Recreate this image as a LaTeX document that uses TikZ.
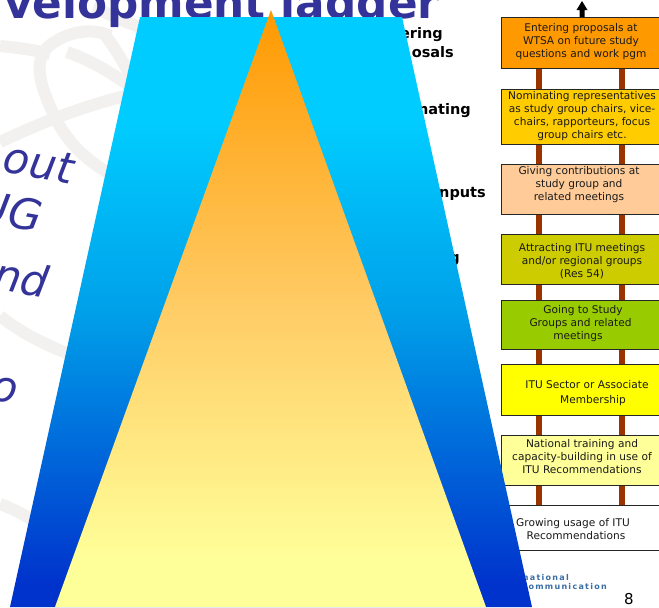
\documentclass[tikz,border=0pt]{standalone}
\usepackage{fontspec}
\setmainfont{DejaVu Sans}
\newfontfamily\footfont[LetterSpace=16]{DejaVu Sans}
\definecolor{titleblue}{HTML}{333399}
\definecolor{globegrey}{HTML}{F2F1F0}
\definecolor{railbrown}{HTML}{993300}
\definecolor{footblue}{HTML}{3A6EA5}
\definecolor{rone}{HTML}{FF9900}
\definecolor{rtwo}{HTML}{FFCC00}
\definecolor{rthree}{HTML}{FFCC99}
\definecolor{rfour}{HTML}{CCCC00}
\definecolor{rfive}{HTML}{99CC00}
\definecolor{rsix}{HTML}{FFFF00}
\definecolor{rseven}{HTML}{FFFF99}
\definecolor{bA}{HTML}{00CCFF}
\definecolor{bB}{HTML}{00A0E9}
\definecolor{bC}{HTML}{0033CC}
\definecolor{oA}{HTML}{FF9900}
\definecolor{oB}{HTML}{FFCC66}
\definecolor{oC}{HTML}{FFFF99}
\pgfdeclareverticalshading{bluefade}{100bp}{color(0bp)=(bC);color(27bp)=(bC);color(50bp)=(bB);color(66bp)=(bA);color(100bp)=(bA)}
\pgfdeclareverticalshading{orangefade}{100bp}{color(0bp)=(oC);color(29bp)=(oC);color(50bp)=(oB);color(75bp)=(oA);color(100bp)=(oA)}
\tikzset{
  globe/.style={draw=globegrey,line width=12pt},
  rungbox/.style={draw=black!85,line width=1.2pt,anchor=north west,minimum width=162pt,inner sep=0pt},
  rungtext/.style={font=\fontsize{10.6}{13}\selectfont,align=center,text=black!90,inner sep=0pt},
  rail/.style={draw=railbrown,line width=6pt},
  slanted/.style={font=\fontsize{43}{43}\selectfont\itshape,text=titleblue,rotate=-10,inner sep=0pt},
  hiddenlabel/.style={font=\fontsize{14.5}{17}\selectfont\bfseries,anchor=base east,inner sep=0pt},
  foot/.style={font=\fontsize{8}{8}\footfont\bfseries,text=footblue,anchor=base east,inner sep=0pt}
}
\newcommand{\rungat}[6]{%
  \node[rungbox,fill=#4,minimum height=#3pt-#2pt] (#1) at (501,#2) {};
  \node[rungtext] (#1t) at (#5) {#6};}
\begin{document}
\begin{tikzpicture}[x=1pt,y=-1pt]
\useasboundingbox (0,0) rectangle (659,608);
\clip (0,0) rectangle (659,608);
\fill[white] (0,0) rectangle (659,608);
% globe watermark
\draw[globe] (0,46) .. controls (20,48) and (35,50) .. (50,54);
\draw[globe] (53,113) .. controls (40,85) and (32,60) .. (50,45) .. controls (70,30) and (95,28) .. (110,36);
\draw[globe] (53,113) .. controls (65,140) and (85,160) .. (112,175);
\draw[globe] (67,52) .. controls (90,60) and (110,72) .. (130,86);
\draw[globe] (0,142) .. controls (30,128) and (70,110) .. (128,95);
\draw[globe] (93,8) .. controls (110,14) and (125,22) .. (142,28);
\draw[globe] (105,35) .. controls (115,48) and (122,60) .. (130,75);
\draw[globe] (0,316) .. controls (20,332) and (45,345) .. (72,355);
\draw[globe] (0,504) .. controls (10,508) and (20,512) .. (32,520);
% title and cut-off texts
\node[font=\fontsize{43.7}{44}\selectfont\bfseries,text=titleblue,anchor=base west,inner sep=0pt] (title) at (4,18) {velopment ladder};
\node[slanted,anchor=base east] (lineA) at (71,184) {out};
\node[slanted,anchor=base east] (lineB) at (40,232) {UG};
\node[slanted,anchor=base east] (lineC) at (46,298) {nd};
\node[slanted,anchor=base east] (lineD) at (16,404) {o};
\node[hiddenlabel] (hA) at (443,38) {ering};
\node[hiddenlabel] (hB) at (454,57) {osals};
\node[hiddenlabel] (hC) at (471,114) {nating};
\node[hiddenlabel] (hD) at (486,197) {nputs};
\node[hiddenlabel] (hE) at (460,262) {g};
\node[foot] (fA) at (569,580) {national};
\node[foot] (fB) at (607,589) {ommunication};
\node[font=\fontsize{15}{15}\selectfont,inner sep=0pt] (pageno) at (629,599.5) {8};
% rungs
\rungat{rA}{17}{68}{rone}{581,42}{Entering proposals at\\WTSA on future study\\questions and work pgm}
\rungat{rB}{89}{144}{rtwo}{582,115.7}{Nominating representatives\\as study group chairs, vice-\\chairs, rapporteurs, focus\\group chairs etc.}
\rungat{rC}{164}{214}{rthree}{579,185}{Giving contributions at\\study group and\\related meetings}
\rungat{rD}{234}{284}{rfour}{582,261}{Attracting ITU meetings\\and/or regional groups\\(Res 54)}
\rungat{rE}{300}{349}{rfive}{580.5,324}{\hspace*{5pt}Going to Study\\Groups and related\\\hspace*{-5pt}meetings}
\rungat{rF}{364}{415}{rsix}{590,393.5}{\hspace*{-6pt}ITU Sector or Associate\\[2pt]\hspace*{6pt}Membership}
\rungat{rG}{435}{485}{rseven}{582,457}{National training and\\capacity-building in use of\\ITU Recommendations}
\rungat{rH}{505}{550}{white}{576,529.5}{\hspace*{-6pt}Growing usage of ITU\\Recommendations}
% rails
\coordinate (railL) at (539,0);
\coordinate (railR) at (622,0);
\foreach \a/\b in {rA/rB,rB/rC,rC/rD,rD/rE,rE/rF,rF/rG,rG/rH}{
  \draw[rail] (\a.south -| railL) -- (\b.north -| railL);
  \draw[rail] (\a.south -| railR) -- (\b.north -| railR);
}
% arrow on top
\coordinate (arrowtip) at (582,1);
\fill[black] (arrowtip) -- (587.5,10) -- (584.5,10) -- (584.5,17) -- (579.5,17) -- (579.5,10) -- (576.5,10) -- cycle;
% big shapes
\path[shading=bluefade] (140,17) -- (402,17) -- (532,607) -- (10,607) -- cycle;
\path[shading=orangefade] (271,10) -- (486,607) -- (55,607) -- cycle;
\end{tikzpicture}
\end{document}
